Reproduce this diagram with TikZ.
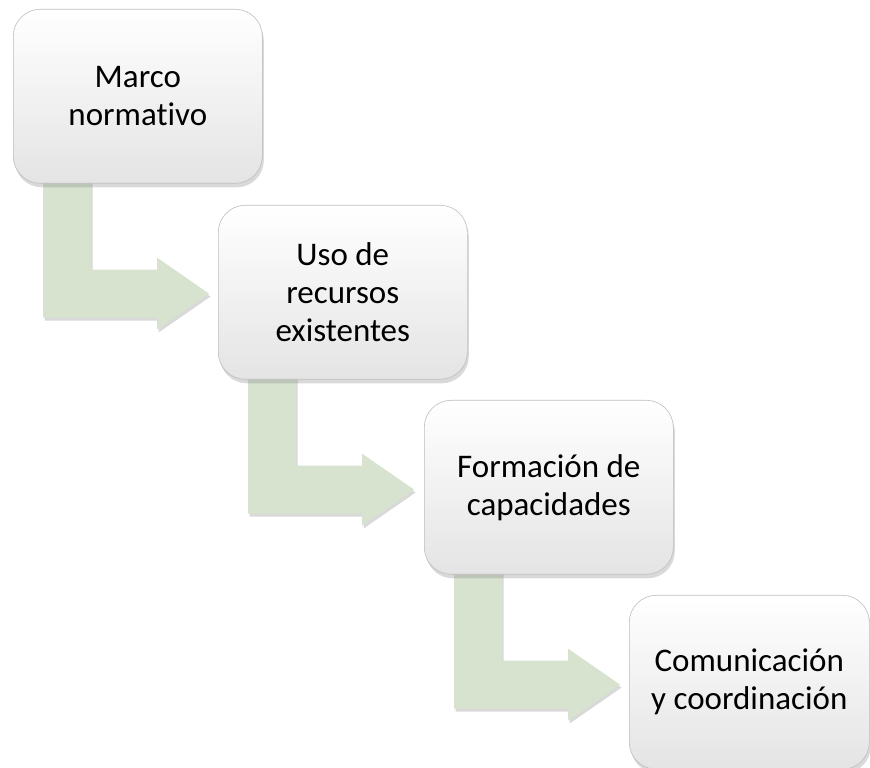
\documentclass[tikz,border=0pt]{standalone}
\usepackage{fontspec}
\setmainfont[Ligatures=NoCommon]{Carlito}
\usetikzlibrary{shadows,calc}
\definecolor{arrowgreen}{RGB}{215,227,207}
\definecolor{boxborder}{RGB}{190,190,190}
\definecolor{boxbottom}{RGB}{228,228,228}
\pgfdeclarelayer{background}
\pgfsetlayers{background,main}
\tikzset{
  stagebox/.style={draw=boxborder, line width=0.6pt, rounded corners=27pt,
    top color=white, bottom color=boxbottom, anchor=north west,
    minimum width=249pt, minimum height=174pt, inner sep=0pt, align=center,
    font=\fontsize{33}{38}\selectfont,
    drop shadow={shadow xshift=1.5pt, shadow yshift=-4pt, opacity=0.3}},
  bentarrow/.style={fill=arrowgreen, draw=none,
    drop shadow={shadow xshift=1.5pt, shadow yshift=-3pt, opacity=0.3}}
}
\begin{document}
\begin{tikzpicture}[x=1pt,y=1pt]
\useasboundingbox (0,0) rectangle (870,768);
\node[stagebox] (b1) at (13,759) {Marco\\normativo};
\node[stagebox] (b2) at (218,563) {Uso de\\recursos\\existentes};
\node[stagebox] (b3) at (424,368) {Formación de\\capacidades};
\node[stagebox, minimum width=240pt] (b4) at (629,173) {Comunicación\\y coordinación};
\begin{pgfonlayer}{background}
\foreach \s/\t in {b1/b2,b2/b3,b3/b4}{
  \begin{scope}[shift={(\s.south west)}]
    \fill[bentarrow] (30,14) -- (78,14) -- (78,-86) -- (144,-86) -- (144,-74)
      -- (196,-110) -- (144,-146) -- (144,-134) -- (30,-134) -- cycle;
  \end{scope}
}
\end{pgfonlayer}
\end{tikzpicture}
\end{document}
